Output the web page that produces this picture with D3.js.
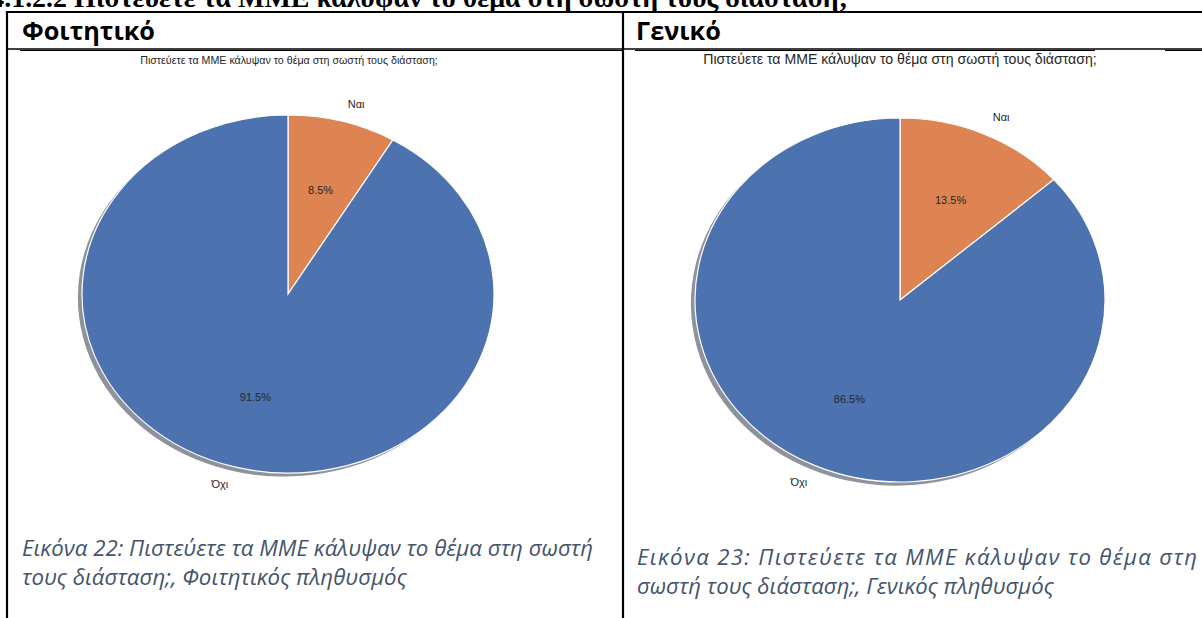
<!DOCTYPE html>
<html>
<head>
<meta charset="utf-8">
<script src="https://cdn.jsdelivr.net/npm/d3@7"></script>
<style>
  body { margin: 0; background: #fff; }
  svg { display: block; }
</style>
</head>
<body>
<svg id="page" width="1202" height="618"></svg>
<script>
// values
const categories = ["Ναι", "Όχι"];
const studentValues = [8.5, 91.5];
const generalValues = [13.5, 86.5];
const sliceColors = ["#dd8452", "#4c72b0"];

const sectionTitle = "4.1.2.2 Πιστεύετε τα ΜΜΕ κάλυψαν το θέμα στη σωστή τους διάσταση;";
const headers = ["Φοιτητικό", "Γενικό"];
const chartTitle = "Πιστεύετε τα ΜΜΕ κάλυψαν το θέμα στη σωστή τους διάσταση;";
const captions = [
  ["Εικόνα 22: Πιστεύετε τα ΜΜΕ κάλυψαν το θέμα στη σωστή", "τους διάσταση;, Φοιτητικός πληθυσμός"],
  ["Εικόνα 23: Πιστεύετε τα ΜΜΕ κάλυψαν το θέμα στη", "σωστή τους διάσταση;, Γενικός πληθυσμός"]
];

const svg = d3.select("#page");

// shrink/grow a text so it spans the wanted width
function fitWidth(sel, size, w) {
  const n = sel.node().getComputedTextLength();
  const s = size * w / n;
  sel.attr("font-size", s);
  return s;
}

// cut-off heading at the very top
const heading = svg.append("text")
  .attr("x", 848).attr("y", 7)
  .attr("text-anchor", "end")
  .attr("font-family", "Liberation Serif, serif")
  .attr("font-weight", "bold")
  .attr("font-size", 20)
  .attr("fill", "#000")
  .text(sectionTitle);
fitWidth(heading, 20, 858);

// table frame
const lines = [
  [7, 12, 1202, 12, 2.2],
  [7, 49, 1202, 49, 1.3],
  [20, 50.5, 623, 50.5, 1],
  [635, 50.5, 1095, 50.5, 1],
  [1165, 50.5, 1202, 50.5, 1.2],
  [7, 11, 7, 618, 2.2],
  [623, 11, 623, 618, 2.2]
];
svg.selectAll("line.frame").data(lines).join("line")
  .attr("class", "frame")
  .attr("x1", d => d[0]).attr("y1", d => d[1])
  .attr("x2", d => d[2]).attr("y2", d => d[3])
  .attr("stroke", "#000").attr("stroke-width", d => d[4]);

// column headers
const headerX = [22, 636];
let headerSize = 22;
headers.forEach(function (h, i) {
  const t = svg.append("text")
    .attr("x", headerX[i]).attr("y", 40)
    .attr("font-family", "Open Sans, sans-serif")
    .attr("font-weight", "bold")
    .attr("font-size", headerSize)
    .attr("fill", "#000")
    .text(h);
  if (i === 0) headerSize = fitWidth(t, 22, 133);
});

// one pie panel (matplotlib style, stretched into an ellipse)
function drawPie(values, cx, cy, rx, ry, titleX, titleW) {
  const g = svg.append("g");

  const tt = g.append("text")
    .attr("x", titleX).attr("y", 64)
    .attr("text-anchor", "middle")
    .attr("font-family", "Liberation Sans, Arial, sans-serif")
    .attr("font-size", 10)
    .attr("fill", "#262626")
    .text(chartTitle);
  fitWidth(tt, 10, titleW);

  const pie = d3.pie().sort(null).value(d => d.v);
  const arcs = pie(values.map((v, i) => ({ v: v, name: categories[i] })));
  const R = 100;
  const arc = d3.arc().innerRadius(0).outerRadius(R);

  // shadow, offset left and down
  g.append("g")
    .attr("transform", "translate(" + (cx - 0.02 * rx) + "," + (cy + 0.02 * ry) + ") scale(" + rx / R + "," + ry / R + ")")
    .selectAll("path").data(arcs).join("path")
    .attr("d", arc)
    .attr("fill", "#8d929b");

  g.append("g")
    .attr("transform", "translate(" + cx + "," + cy + ") scale(" + rx / R + "," + ry / R + ")")
    .selectAll("path").data(arcs).join("path")
    .attr("d", arc)
    .attr("fill", (d, i) => sliceColors[i])
    .attr("stroke", "#fff")
    .attr("stroke-width", 1.2)
    .attr("vector-effect", "non-scaling-stroke");

  arcs.forEach(function (d) {
    const mid = (d.startAngle + d.endAngle) / 2;
    const sx = Math.sin(mid), sy = -Math.cos(mid);
    // category label at 1.1 radius
    g.append("text")
      .attr("x", cx + 1.1 * rx * sx)
      .attr("y", cy + 1.1 * ry * sy)
      .attr("dy", "0.35em")
      .attr("text-anchor", sx > 0 ? "start" : "end")
      .attr("font-family", "Liberation Sans, Arial, sans-serif")
      .attr("font-size", 11)
      .attr("fill", "#262626")
      .text(d.data.name);
    // percentage at 0.6 radius
    g.append("text")
      .attr("x", cx + 0.6 * rx * sx)
      .attr("y", cy + 0.6 * ry * sy)
      .attr("dy", "0.35em")
      .attr("text-anchor", "middle")
      .attr("font-family", "Liberation Sans, Arial, sans-serif")
      .attr("font-size", 11)
      .attr("fill", "#262626")
      .text(d.data.v.toFixed(1) + "%");
  });
}

drawPie(studentValues, 288, 294, 206, 179, 289, 298);
drawPie(generalValues, 900, 300, 205, 182, 900, 394);

// captions under the pies
function drawCaption(lines2, x, y1, y2, w1, w2, justify) {
  const t2 = svg.append("text")
    .attr("x", x).attr("y", y2)
    .attr("font-family", "Open Sans, sans-serif")
    .attr("font-style", "italic")
    .attr("font-size", 18)
    .attr("fill", "#44546a")
    .text(lines2[1]);
  const s = fitWidth(t2, 18, w2);
  const t1 = svg.append("text")
    .attr("x", x).attr("y", y1)
    .attr("font-family", "Open Sans, sans-serif")
    .attr("font-style", "italic")
    .attr("font-size", s)
    .attr("fill", "#44546a")
    .text(lines2[0]);
  if (justify) t1.attr("textLength", w1).attr("lengthAdjust", "spacing");
}

drawCaption(captions[0], 22, 556, 585, 584, 385, false);
drawCaption(captions[1], 637, 565, 594, 560, 417, true);
</script>
</body>
</html>
